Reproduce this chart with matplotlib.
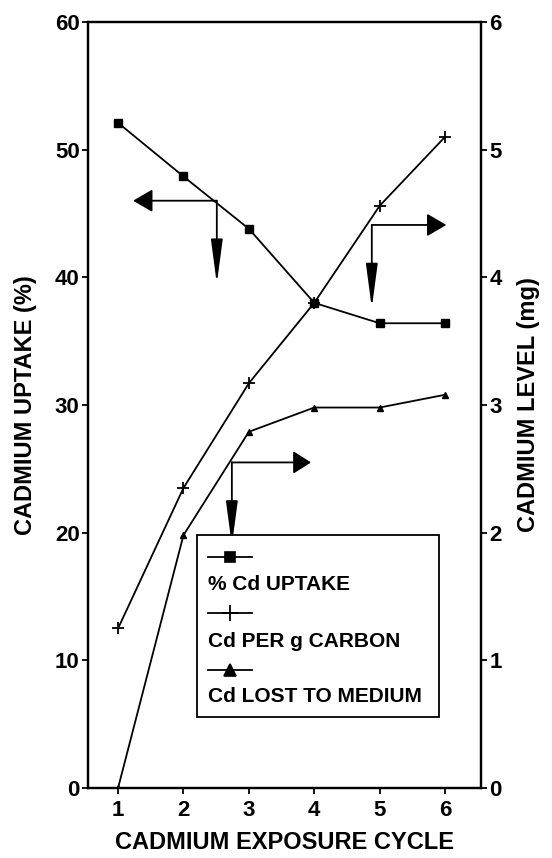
import numpy as np
import matplotlib.pyplot as plt
from matplotlib.patches import FancyArrowPatch, Rectangle
from matplotlib.lines import Line2D

plt.rcParams['font.family'] = ['Liberation Sans', 'DejaVu Sans']
plt.rcParams['font.weight'] = 'bold'

cycle = [1, 2, 3, 4, 5, 6]
pct_uptake = [52.1, 47.9, 43.8, 38.0, 36.4, 36.4]        # left axis, %
cd_per_carbon = [1.25, 2.35, 3.17, 3.80, 4.56, 5.10]     # right axis, mg
cd_lost = [0.0, 1.98, 2.79, 2.98, 2.98, 3.08]            # right axis, mg
legend_labels = ['% Cd UPTAKE', 'Cd PER g CARBON', 'Cd LOST TO MEDIUM']

fig = plt.figure(figsize=(5.52, 8.58), dpi=100)
ax = fig.add_axes([0.1594, 0.0816, 0.7120, 0.8928])
ax2 = ax.twinx()

ax.plot(cycle, pct_uptake, color='black', lw=1.3, marker='s', ms=6)
ax2.plot(cycle, cd_per_carbon, color='black', lw=1.3, marker='+', ms=8, mew=1.3)
ax2.plot(cycle, cd_lost, color='black', lw=1.3, marker='^', ms=4)

ax.set_xlim(0.54, 6.55)
ax.set_ylim(0, 60)
ax2.set_ylim(0, 6)
ax.set_xticks(cycle)
ax.set_yticks(np.arange(0, 61, 10))
ax2.set_yticks(np.arange(0, 7, 1))

for a in (ax, ax2):
    for s in a.spines.values():
        s.set_linewidth(1.6)
    a.tick_params(length=4, width=1.3, labelsize=16, pad=2)
ax.tick_params(axis='x', pad=5)

ax.set_xlabel('CADMIUM EXPOSURE CYCLE', fontsize=17, fontweight='bold', labelpad=7)
ax.set_ylabel('CADMIUM UPTAKE (%)', fontsize=17, fontweight='bold', labelpad=13)
ax2.set_ylabel('CADMIUM LEVEL (mg)', fontsize=17, fontweight='bold', labelpad=11)


def bent_arrow(x0, y0, x1, y1, hl, hw):
    # horizontal arm from corner (x0, y0) to x1, vertical arm down to y1
    big = f'-|>,head_length={hl},head_width={hw}'
    tall = '-|>,head_length=27,head_width=3.6'
    for end, style in (((x1, y0), big), ((x0, y1), tall)):
        ax.add_patch(FancyArrowPatch((x0, y0), end, arrowstyle=style,
                                     mutation_scale=1, lw=1.3, color='black',
                                     shrinkA=0, shrinkB=0))


bent_arrow(2.51, 46.0, 1.23, 39.5, 12, 7)
bent_arrow(4.88, 44.1, 6.02, 37.6, 12, 7)
bent_arrow(2.74, 25.5, 3.95, 19.0, 11, 7)

# legend box drawn by hand: sample line above each label
ax.add_patch(Rectangle((0.277, 0.093), 0.616, 0.237, transform=ax.transAxes,
                       fill=True, fc='white', ec='black', lw=1.3, zorder=5))
markers = [('s', 7, 1.2), ('+', 11, 1.3), ('^', 9, 1.2)]
line_y = [0.3016, 0.2285, 0.154]
text_y = [0.265, 0.1906, 0.1188]
for (m, ms, mew), ly, ty, lab in zip(markers, line_y, text_y, legend_labels):
    ax.add_line(Line2D([0.305, 0.417], [ly, ly], transform=ax.transAxes,
                       color='black', lw=1.3, zorder=6))
    ax.add_line(Line2D([0.361], [ly], transform=ax.transAxes, color='black',
                       marker=m, ms=ms, mew=mew, zorder=6))
    ax.text(0.306, ty, lab, transform=ax.transAxes, fontsize=15,
            fontweight='bold', va='center', ha='left', zorder=6)

fig.savefig('out.png', dpi=100)
